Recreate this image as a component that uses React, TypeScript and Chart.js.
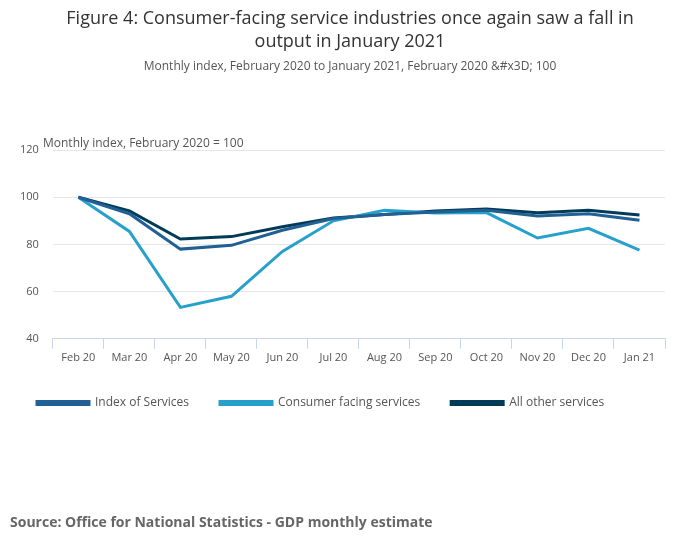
import React, { useEffect, useRef } from "react";
import { Chart, registerables } from "chart.js";
Chart.register(...registerables);

const months = ["Feb 20","Mar 20","Apr 20","May 20","Jun 20","Jul 20","Aug 20","Sep 20","Oct 20","Nov 20","Dec 20","Jan 21"];
const indexOfServices = [100, 93, 78, 79.6, 86, 91, 92.7, 93.7, 94.5, 92, 93, 90.2];
const consumerFacing = [100, 85.5, 53.3, 58, 77, 90, 94.5, 93.3, 93.5, 82.7, 86.8, 77.6];
const allOther = [100, 94.2, 82.3, 83.3, 87.5, 91.2, 92.7, 94.2, 95, 93.4, 94.5, 92.5];
const yTicks = [40, 60, 80, 100, 120];

const F = "'Open Sans', sans-serif";

export default function App() {
  const ref = useRef<HTMLCanvasElement>(null);
  useEffect(() => {
    const mk = (label: string, data: number[], c: string) => ({
      label, data, borderColor: c, backgroundColor: c, borderWidth: 3, pointRadius: 0, tension: 0,
    });
    const chart = new Chart(ref.current!, {
      type: "line",
      data: {
        labels: months,
        datasets: [
          mk("Index of Services", indexOfServices, "#206095"),
          mk("Consumer facing services", consumerFacing, "#27a0cc"),
          mk("All other services", allOther, "#003c57"),
        ],
      },
      options: {
        animation: false,
        responsive: false,
        layout: { padding: { top: 150, left: 6, right: 35, bottom: 130 } },
        plugins: {
          tooltip: { enabled: false },
          legend: {
            position: "bottom",
            align: "start",
            labels: { boxWidth: 52, boxHeight: 3, padding: 31, color: "#555", font: { family: F, size: 12 } },
          },
        },
        scales: {
          x: {
            offset: true,
            grid: { display: true, drawOnChartArea: false, drawTicks: true, tickLength: 10, color: "#ccd6eb", offset: true },
            border: { color: "#ccd6eb" },
            ticks: { color: "#555", font: { family: F, size: 11 }, maxRotation: 0, padding: 2 },
          },
          y: {
            min: 40, max: 120,
            afterBuildTicks: (ax: any) => { ax.ticks = yTicks.map((v) => ({ value: v })); },
            grid: { color: "#e6e6e6", drawTicks: false },
            border: { display: false },
            ticks: { color: "#555", font: { family: F, size: 11 }, padding: 14 },
          },
        },
      },
    });
    return () => chart.destroy();
  }, []);
  const abs = (s: any) => ({ position: "absolute" as const, fontFamily: F, margin: 0, ...s });
  return (
    <div style={{ position: "absolute", left: 0, top: 0, width: 700, height: 549, background: "#fff" }}>
      <canvas ref={ref} width={700} height={549} style={abs({ left: 0, top: 0 })} />
      <div style={abs({ left: 0, width: 700, top: 6, textAlign: "center", fontSize: 18, lineHeight: "23px", color: "#333" })}>
        Figure 4: Consumer-facing service industries once again saw a fall in<br />output in January 2021
      </div>
      <div style={abs({ left: 0, width: 700, top: 57, textAlign: "center", fontSize: 12, color: "#555" })}>
        Monthly index, February 2020 to January 2021, February 2020 &amp;#x3D; 100
      </div>
      <div style={abs({ left: 43, top: 134, fontSize: 12, color: "#555" })}>Monthly index, February 2020 = 100</div>
      <div style={abs({ left: 10, top: 512, fontSize: 14, fontWeight: 700, color: "#666" })}>
        Source: Office for National Statistics - GDP monthly estimate
      </div>
    </div>
  );
}
